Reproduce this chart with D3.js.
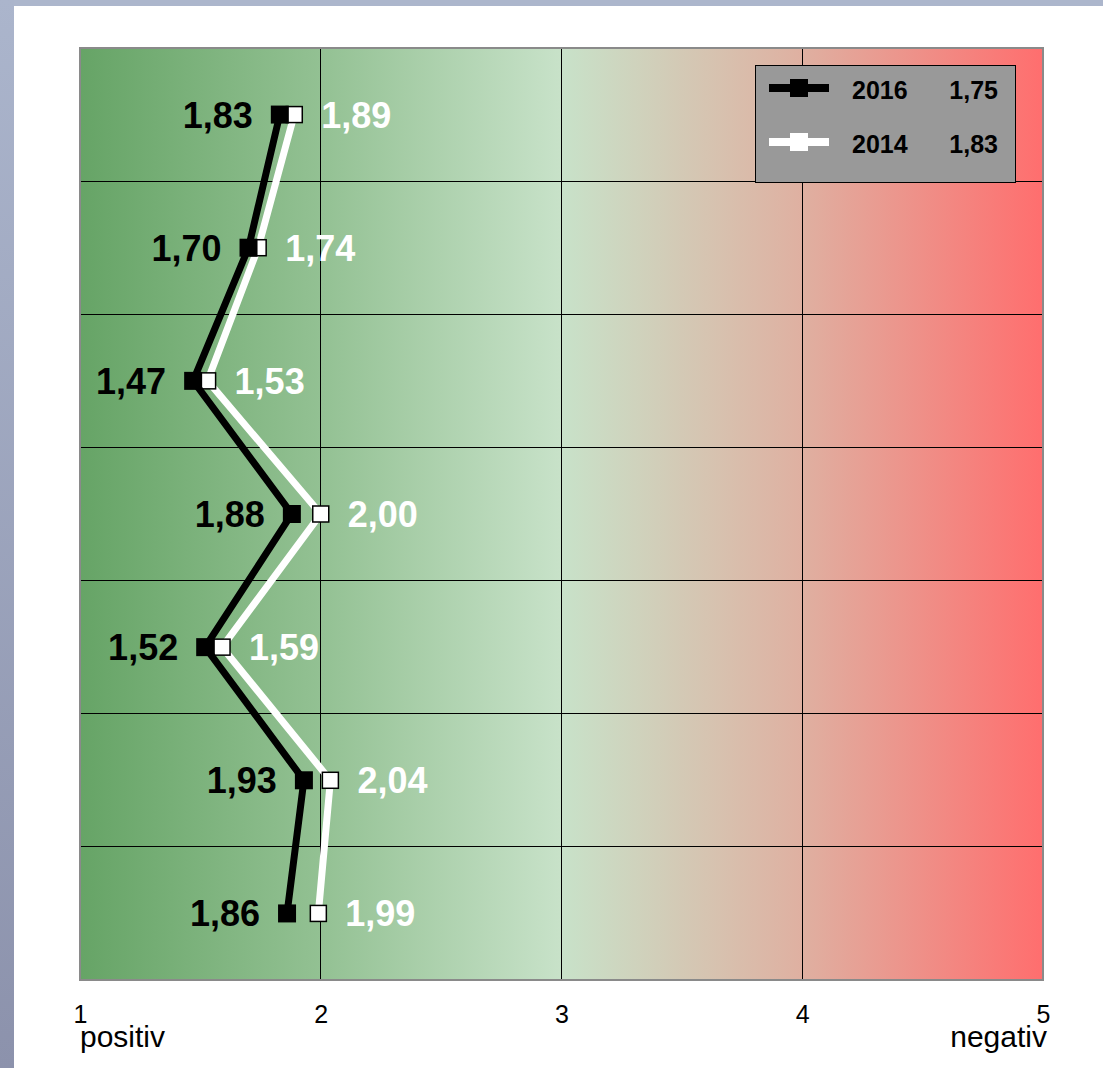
<!DOCTYPE html>
<html><head><meta charset="utf-8">
<script src="https://cdn.jsdelivr.net/npm/d3@7"></script>
<style>html,body{margin:0;padding:0;background:#fff;}svg{display:block;font-family:"Liberation Sans",Arial,sans-serif;}</style>
</head><body>
<script>
const categories = ["A","B","C","D","E","F","G"];
const values2016 = [1.83, 1.70, 1.47, 1.88, 1.52, 1.93, 1.86];
const values2014 = [1.89, 1.74, 1.53, 2.00, 1.59, 2.04, 1.99];
const xTicks = [1, 2, 3, 4, 5];
const legendItems = [{year:"2016", mean:"1,75", key:"s2016"}, {year:"2014", mean:"1,83", key:"s2014"}];
const endLabels = ["positiv", "negativ"];

const W = 1103, H = 1068;
const L = 80, R = 1043, T = 48, B = 980;
const fmt = v => d3.format(".2f")(v).replace(".", ",");

const svg = d3.select("body").append("svg").attr("width", W).attr("height", H);
const defs = svg.append("defs");
const lg = defs.append("linearGradient").attr("id","bg").attr("x1","0").attr("x2","1").attr("y1","0").attr("y2","0");
[[0,"#66a466"],[0.25,"#93c193"],[0.5,"#c8e2c9"],[0.75,"#dfb0a1"],[1,"#ff6e6e"]].forEach(([o,c])=>lg.append("stop").attr("offset",o).attr("stop-color",c));
const sg = defs.append("linearGradient").attr("id","side").attr("x1","0").attr("x2","0").attr("y1","0").attr("y2","1");
sg.append("stop").attr("offset",0).attr("stop-color","#abb5cc");
sg.append("stop").attr("offset",1).attr("stop-color","#8c92ac");

// frame strips
svg.append("rect").attr("x",0).attr("y",0).attr("width",W).attr("height",6).attr("fill","#acb6cc");
svg.append("rect").attr("x",0).attr("y",0).attr("width",14).attr("height",H).attr("fill","url(#side)");

const x = d3.scaleLinear().domain([1,5]).range([L,R]);
const y = d3.scaleBand().domain(categories).range([T,B]);
const cy = c => y(c) + y.bandwidth()/2;

svg.append("rect").attr("x",L).attr("y",T).attr("width",R-L).attr("height",B-T).attr("fill","url(#bg)");

// gridlines
const g = svg.append("g");
g.selectAll("line.v").data(xTicks.slice(1,-1)).join("line")
  .attr("x1",d=>x(d)).attr("x2",d=>x(d)).attr("y1",T).attr("y2",B)
  .attr("stroke","#000").attr("stroke-width",1).attr("shape-rendering","crispEdges");
g.selectAll("line.h").data(categories.slice(1)).join("line")
  .attr("x1",L).attr("x2",R).attr("y1",d=>y(d)).attr("y2",d=>y(d))
  .attr("stroke","#000").attr("stroke-width",1).attr("shape-rendering","crispEdges");

svg.append("rect").attr("x",L).attr("y",T).attr("width",R-L).attr("height",B-T)
  .attr("fill","none").attr("stroke","#8a8a8a").attr("stroke-width",2);

// x axis labels
const axis = d3.axisBottom(x).tickValues(xTicks).tickSize(0).tickFormat(d3.format("d"));
const ax = svg.append("g").attr("transform",`translate(0,${B})`).call(axis);
ax.select(".domain").remove();
ax.selectAll("text").attr("font-size",25).attr("fill","#000").attr("dy",0).attr("y",43)
  .attr("font-family","'Liberation Sans',Arial,sans-serif");
svg.append("text").attr("x",L).attr("y",1047).attr("font-size",30).text(endLabels[0]);
svg.append("text").attr("x",R+4).attr("y",1047).attr("font-size",30).attr("text-anchor","end").text(endLabels[1]);

const line = d3.line().x(d=>x(d.v)).y(d=>cy(d.c));
const d14 = categories.map((c,i)=>({c, v:values2014[i]}));
const d16 = categories.map((c,i)=>({c, v:values2016[i]}));
const MS = 18;

// 2014 series (white)
svg.append("path").datum(d14).attr("d",line).attr("fill","none").attr("stroke","#fff").attr("stroke-width",7).attr("stroke-linejoin","miter");
svg.selectAll("rect.m14").data(d14).join("rect")
  .attr("x",d=>x(d.v)-MS/2+1).attr("y",d=>cy(d.c)-MS/2+1).attr("width",MS-2).attr("height",MS-2)
  .attr("fill","#fff").attr("stroke","#000").attr("stroke-width",1.5);
svg.selectAll("text.l14").data(d14).join("text")
  .attr("x",d=>x(d.v)+27).attr("y",d=>cy(d.c)+13)
  .attr("font-size",36).attr("font-weight","bold").attr("fill","#fff").text(d=>fmt(d.v));

// 2016 series (black)
svg.append("path").datum(d16).attr("d",line).attr("fill","none").attr("stroke","#000").attr("stroke-width",7).attr("stroke-linejoin","miter");
svg.selectAll("rect.m16").data(d16).join("rect")
  .attr("x",d=>x(d.v)-MS/2).attr("y",d=>cy(d.c)-MS/2).attr("width",MS).attr("height",MS)
  .attr("fill","#000");
svg.selectAll("text.l16").data(d16).join("text")
  .attr("x",d=>x(d.v)-27).attr("y",d=>cy(d.c)+13).attr("text-anchor","end")
  .attr("font-size",36).attr("font-weight","bold").attr("fill","#000").text(d=>fmt(d.v));

// legend
const lgG = svg.append("g");
lgG.append("rect").attr("x",755.5).attr("y",65.5).attr("width",260).attr("height",117)
  .attr("fill","#999999").attr("stroke","#000").attr("stroke-width",1);
legendItems.forEach((it,i)=>{
  const yy = 88 + i*54;
  const col = i===0 ? "#000" : "#fff";
  lgG.append("line").attr("x1",769).attr("x2",829).attr("y1",yy).attr("y2",yy).attr("stroke",col).attr("stroke-width",8);
  lgG.append("rect").attr("x",790).attr("y",yy-9).attr("width",18).attr("height",18).attr("fill",col);
  lgG.append("text").attr("x",852).attr("y",yy+11).attr("font-size",25).attr("font-weight","bold").text(it.year);
  lgG.append("text").attr("x",998).attr("y",yy+11).attr("font-size",25).attr("font-weight","bold").attr("text-anchor","end").text(it.mean);
});
</script>
</body></html>
